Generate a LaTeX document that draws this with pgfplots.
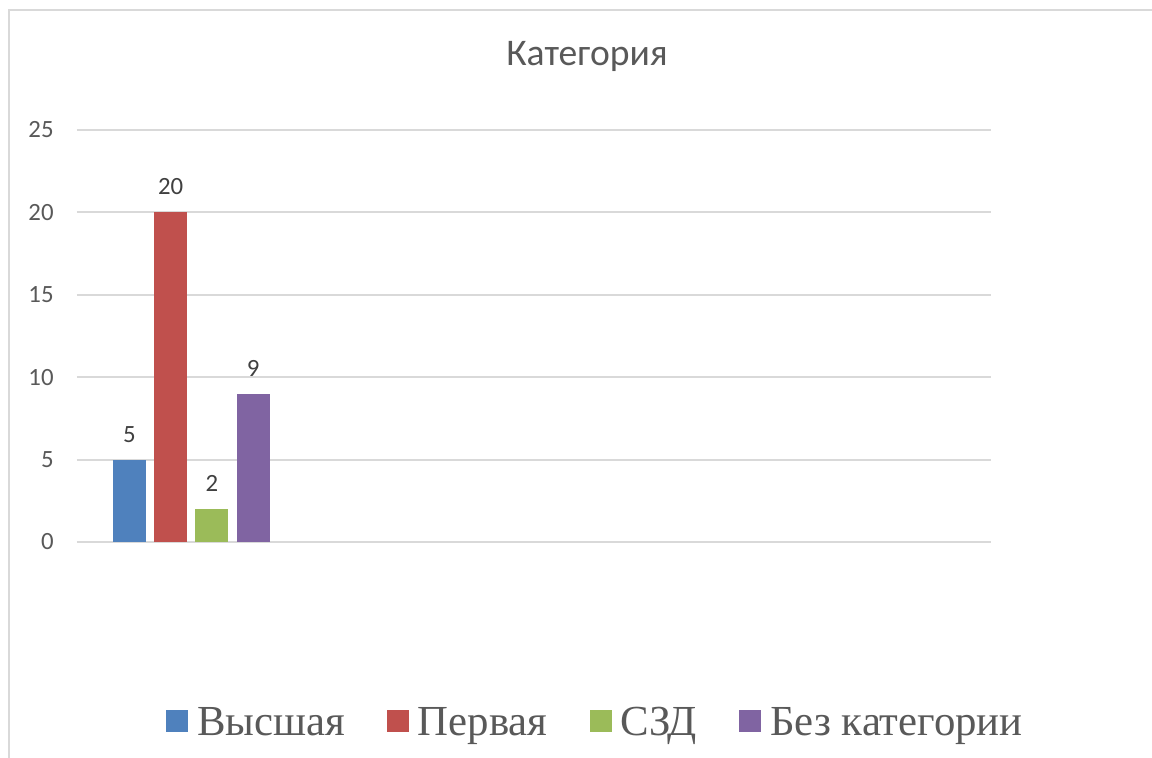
\documentclass[border=0pt]{standalone}
\usepackage{fontspec}
\setmainfont{Carlito}
\newfontfamily\legfont{Liberation Serif}
\usepackage{pgfplots}
\pgfplotsset{compat=1.18}
\definecolor{cblue}{HTML}{4F81BD}
\definecolor{cred}{HTML}{C0504D}
\definecolor{cgreen}{HTML}{9BBB59}
\definecolor{cpurple}{HTML}{8064A2}
\definecolor{textgray}{HTML}{595959}
\definecolor{labelgray}{HTML}{404040}
\definecolor{gridgray}{HTML}{D9D9D9}
\begin{document}
\begin{tikzpicture}
\useasboundingbox (0,0) rectangle (576pt,379pt);
\draw[color=gridgray, line width=1pt] (4.5pt,0pt) -- (4.5pt,374pt) -- (576pt,374pt);
\begin{axis}[
  at={(38.5pt,108pt)}, anchor=south west,
  scale only axis, width=457pt, height=206pt,
  xmin=-0.5, xmax=3.5, ymin=0, ymax=25,
  xtick=\empty, ytick={0,5,10,15,20,25},
  ymajorgrids, grid style={gridgray, line width=1pt},
  axis line style={draw=none}, major tick length=0pt,
  /pgf/number format/assume math mode=true,
  yticklabel style={font=\fontsize{12.4pt}{14pt}\selectfont, text=textgray, anchor=east, inner sep=0pt, xshift=-11.5pt},
  every axis title shift=0pt,
  title={Категория},
  title style={at={(axis description cs:0.558,1.1561)}, anchor=base, font=\fontsize{18.8pt}{22pt}\selectfont, text=textgray, inner sep=0pt},
  ybar=4.15pt, bar width=16.5pt,
  legend image code/.code={\fill[#1] (0pt,1.85pt) rectangle (11pt,12.85pt);},
  legend columns=4,
  legend style={at={(axis description cs:0.0974,-0.4871)}, anchor=south west, draw=none, inner sep=0pt, outer sep=0pt,
    font=\legfont\fontsize{21.4pt}{25pt}\selectfont, text=textgray,
    cells={anchor=base west, inner sep=0pt, text height=14pt, text depth=5pt},
    /tikz/every odd column/.append style={column sep=2.5pt},
    /tikz/every even column/.append style={column sep=19pt}},
  nodes near coords,
  nodes near coords style={font=\fontsize{12.4pt}{14pt}\selectfont, text=labelgray, anchor=south, inner sep=0pt, yshift=8.5pt},
]
\addplot[fill=cblue, draw=none] coordinates {(0,5)};
\addlegendentry{Высшая}
\addplot[fill=cred, draw=none] coordinates {(0,20)};
\addlegendentry{Первая}
\addplot[fill=cgreen, draw=none] coordinates {(0,2)};
\addlegendentry{СЗД}
\addplot[fill=cpurple, draw=none] coordinates {(0,9)};
\addlegendentry{Без категории}
\end{axis}
\end{tikzpicture}
\end{document}
